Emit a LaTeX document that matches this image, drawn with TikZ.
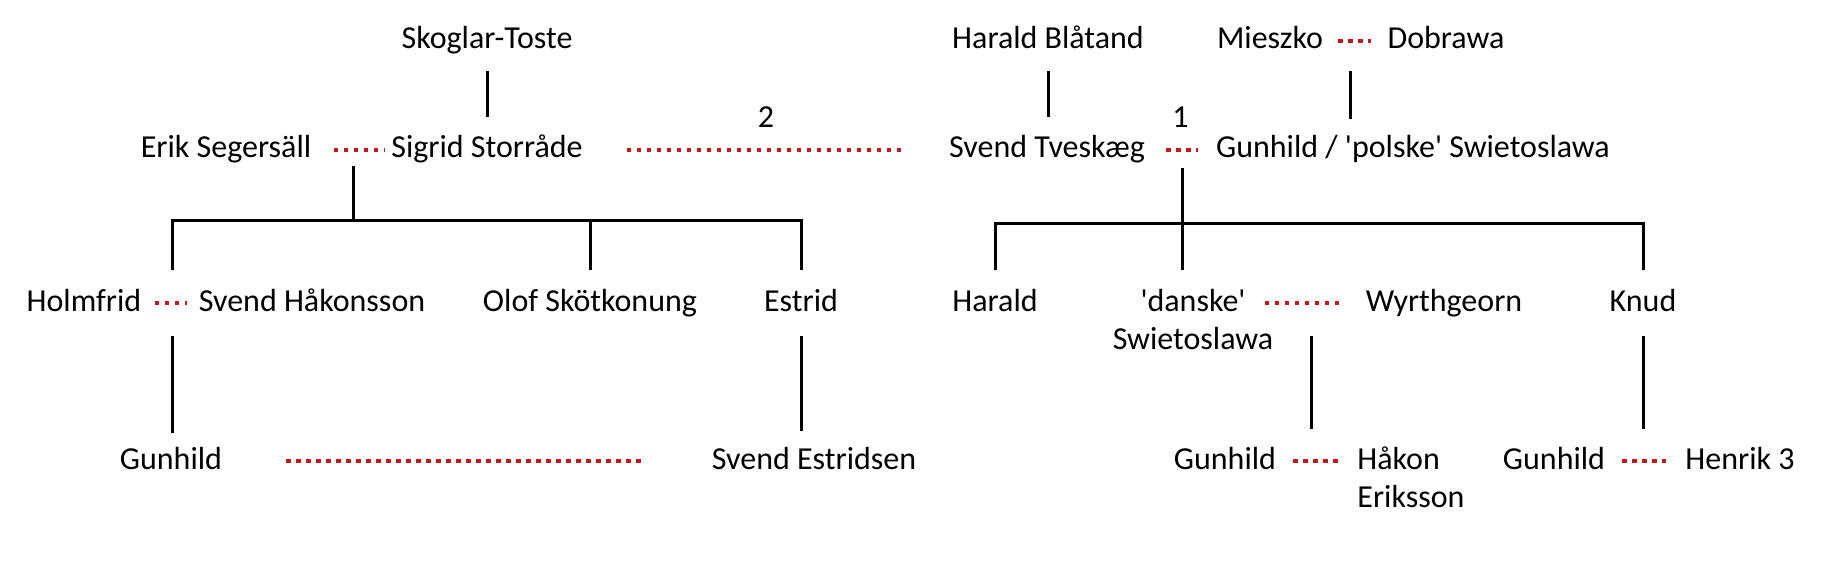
\documentclass[tikz,border=0pt]{standalone}
\usepackage{fontspec}
\newfontfamily\calibri{Carlito}
\usetikzlibrary{positioning}
\definecolor{wedred}{RGB}{196,24,28}
\tikzstyle{person}  = [inner sep=0pt, anchor=base, text height=11.5pt, text depth=3.5pt]
\tikzstyle{person2} = [inner sep=0pt, anchor=base, align=center]
\tikzstyle{kin}     = [line width=1.5pt, black]
\tikzstyle{married} = [line width=2.4pt, draw=wedred, dash pattern=on 2.2pt off 2.8pt]
\tikzstyle{wedno}   = [inner sep=0pt, above=10pt]

\begin{document}
\begin{tikzpicture}[x=0.5pt, y=-0.5pt, every node/.style={font=\calibri\fontsize{16}{19}\selectfont}]
  \useasboundingbox (0,0) rectangle (1825,561);

  % --- Swedish side ---
  \node (skoglar)  [person] at (487,49)  {Skoglar-Toste};
  \node (erik)     [person] at (226,158) {Erik Segersäll};
  \node (sigrid)   [person] at (487,158) {Sigrid Storråde};

  \node (holmfrid) [person] at (84,311)  {Holmfrid};
  \node (svendh)   [person] at (312,311) {Svend Håkonsson};
  \node (olof)     [person] at (590,311) {Olof Skötkonung};
  \node (estrid)   [person] at (801,311) {Estrid};

  \node (gunhilds) [person] at (171,469) {Gunhild};
  \node (svende)   [person] at (814,469) {Svend Estridsen};

  % --- Danish side ---
  \node (blaatand) [person] at (1048,49)  {Harald Blåtand};
  \node (mieszko)  [person] at (1270,49)  {Mieszko};
  \node (dobrawa)  [person] at (1446,49)  {Dobrawa};
  \node (svendt)   [person] at (1047,158) {Svend Tveskæg};
  \node (polske)   [person] at (1413,158) {Gunhild / 'polske' Swietoslawa};

  \node (harald)   [person]  at (995,311)  {Harald};
  \node (danske)   [person2] at (1193,349) {'danske'\\Swietoslawa};
  \node (wyrth)    [person]  at (1444,311) {Wyrthgeorn};
  \node (knud)     [person]  at (1643,311) {Knud};

  \node (gunhildh) [person]  at (1225,469) {Gunhild};
  \node (hakon)    [person2, align=left, anchor=base west] at (1357,507) {Håkon\\Eriksson};
  \node (gunhildk) [person]  at (1554,469) {Gunhild};
  \node (henrik)   [person]  at (1740,469) {Henrik 3};

  % marriage points
  \coordinate (es)   at (353,150);
  \coordinate (lbar) at (353,221);
  \coordinate (hs)   at (172,302);
  \coordinate (md)   at (1350,41);
  \coordinate (sp)   at (1182,150);
  \coordinate (rbar) at (1182,224);
  \coordinate (dw)   at (1311,303);
  \coordinate (gh)   at (1311,459);

  % Marriages
  \draw[married, shorten <=11pt,   shorten >=3.5pt]  (erik) -- (sigrid);
  \draw[married, shorten <=22pt,   shorten >=24pt]   (sigrid) -- node[wedno]{2} (svendt);
  \draw[married, shorten <=7.5pt,  shorten >=8pt]    (mieszko) -- (dobrawa);
  \draw[married, shorten <=10.5pt, shorten >=9pt]    (svendt) -- node[wedno]{1} (polske);
  \draw[married, shorten <=6.5pt,  shorten >=5.5pt]  (holmfrid) -- (svendh);
  \draw[married, shorten <=-4.5pt, shorten >=12.5pt] (danske.east |- wyrth) -- (wyrth);
  \draw[married, shorten <=32pt,   shorten >=32.5pt] (gunhilds) -- (svende);
  \draw[married, shorten <=8.5pt,  shorten >=9.5pt]  (gunhildh) -- (hakon.west |- gunhildh);
  \draw[married, shorten <=8.5pt,  shorten >=9.5pt]  (gunhildk) -- (henrik);

  % Descent
  \draw[kin, shorten <=7.5pt, shorten >=9pt] (skoglar) -- (sigrid);
  \draw[kin, shorten <=8pt] (es) -- (lbar);
  \draw[kin, shorten >=16pt] (lbar) -| (hs);
  \draw[kin, shorten >=9pt] (lbar) -| (estrid);
  \draw[kin, shorten >=9pt] (olof |- lbar) -- (olof);
  \draw[kin, shorten <=17pt, shorten >=6.5pt] (hs) -- (hs |- gunhilds.north);
  \draw[kin, shorten <=9pt, shorten >=7.5pt] (estrid) -- (estrid |- svende.north);

  \draw[kin, shorten <=7.5pt, shorten >=9pt] (blaatand.south) -- (blaatand.south |- svendt.north);
  \draw[kin, shorten <=15pt, shorten >=8pt] (md) -- (md |- polske.north);
  \draw[kin, shorten <=9pt, shorten >=9pt] (sp) -- (sp |- danske.north);
  \draw[kin, shorten >=9pt] (rbar) -| (harald);
  \draw[kin, shorten >=9pt] (rbar) -| (knud);
  \draw[kin, shorten <=16.5pt, shorten >=15pt] (dw) -- (gh);
  \draw[kin, shorten <=9pt, shorten >=16pt] (knud) -- (knud |- gunhildk);

\end{tikzpicture}
\end{document}
